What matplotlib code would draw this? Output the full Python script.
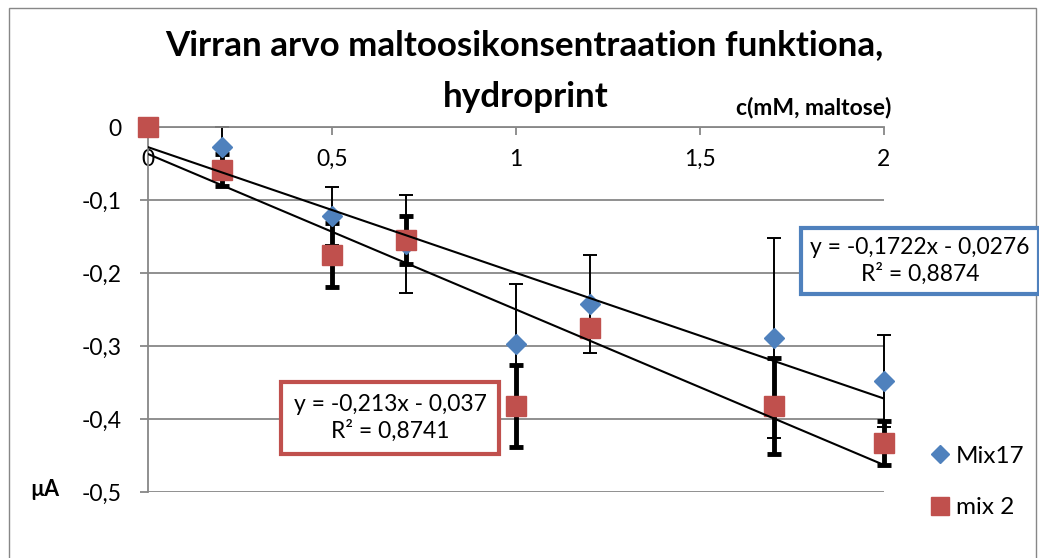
import matplotlib
matplotlib.use("Agg")
import numpy as np
import matplotlib.pyplot as plt
from matplotlib.patches import Rectangle

plt.rcParams["font.family"] = ["Lato", "DejaVu Sans"]

# ---- data ----
conc = [0.0, 0.2, 0.5, 0.7, 1.0, 1.2, 1.7, 2.0]
mix17 = [0.0, -0.028, -0.122, -0.160, -0.297, -0.242, -0.289, -0.348]
mix17_err = [0.0, 0.028, 0.040, 0.067, 0.082, 0.067, 0.137, 0.063]
mix2 = [0.0, -0.059, -0.175, -0.155, -0.382, -0.275, -0.382, -0.433]
mix2_err = [0.0, 0.022, 0.044, 0.033, 0.056, 0.010, 0.066, 0.030]

fit17 = (-0.1722, -0.0276)   # slope, intercept
fit2 = (-0.213, -0.037)
eq17 = "y = -0,1722x - 0,0276\nR² = 0,8874"
eq2 = "y = -0,213x - 0,037\nR² = 0,8741"

xticks = [0, 0.5, 1, 1.5, 2]
xticklabels = ["0", "0,5", "1", "1,5", "2"]
yticks = [0, -0.1, -0.2, -0.3, -0.4, -0.5]
yticklabels = ["0", "-0,1", "-0,2", "-0,3", "-0,4", "-0,5"]

BLUE = "#4F81BD"
RED = "#C0504D"
GRID = "#878787"

fig = plt.figure(figsize=(10.39, 5.58), dpi=100)
ax = fig.add_axes([148 / 1039, 66 / 558, 736 / 1039, 365 / 558])

# error bars first (thin for Mix17, thick for mix 2)
ax.errorbar(conc, mix17, yerr=mix17_err, fmt="none", ecolor="black",
            elinewidth=1.4, capsize=5, capthick=1.4, zorder=2, clip_on=False)
ax.errorbar(conc, mix2, yerr=mix2_err, fmt="none", ecolor="black",
            elinewidth=3.5, capsize=5, capthick=3.5, zorder=2, clip_on=False)

ax.plot(conc, mix17, linestyle="none", marker="D", ms=10.5, color=BLUE,
        mec=BLUE, label="Mix17", zorder=3, clip_on=False)
ax.plot(conc, mix2, linestyle="none", marker="s", ms=15, color=RED,
        mec=RED, label="mix 2", zorder=4, clip_on=False)

# linear trendlines
xl = np.array([0.0, 2.0])
ax.plot(xl, fit17[0] * xl + fit17[1], color="black", lw=1.5, zorder=5)
ax.plot(xl, fit2[0] * xl + fit2[1], color="black", lw=1.5, zorder=5)

ax.set_xlim(0, 2)
ax.set_ylim(-0.5, 0)

# axis styling: x axis sits at y=0 (top), labels below it
for s in ["right", "bottom"]:
    ax.spines[s].set_visible(False)
ax.spines["left"].set_color(GRID)
ax.spines["top"].set_color(GRID)
ax.spines["left"].set_linewidth(1.3)
ax.spines["top"].set_linewidth(1.3)

ax.xaxis.tick_top()
ax.set_xticks(xticks)
ax.set_xticklabels(xticklabels)
ax.tick_params(axis="x", direction="in", length=6, width=1.3, color=GRID,
               pad=-31, labelsize=16.5)
ax.set_yticks(yticks)
ax.set_yticklabels(yticklabels)
ax.tick_params(axis="y", direction="out", length=6, width=1.3, color=GRID,
               labelsize=16.5, pad=13)
ax.yaxis.grid(True, color=GRID, lw=1.3)
ax.set_axisbelow(True)

fig.text(524 / 1039, 1 - 45 / 558, "Virran arvo maltoosikonsentraation funktiona,",
         ha="center", va="center", fontsize=25.2, fontweight="bold")
fig.text(526 / 1039, 1 - 97 / 558, "hydroprint",
         ha="center", va="center", fontsize=25.2, fontweight="bold")
fig.text(814 / 1039, 1 - 107 / 558, "c(mM, maltose)", ha="center", va="center",
         fontsize=16.5, fontweight="bold")
fig.text(45 / 1039, 1 - 490 / 558, "µA", ha="center", va="center",
         fontsize=15.5, fontweight="bold")

fig.text(920 / 1039, 1 - 261 / 558, eq17, ha="center", va="center",
         fontsize=16.5, multialignment="center", linespacing=1.25,
         bbox=dict(boxstyle="square,pad=0.42", fc="white", ec=BLUE, lw=3))
fig.text(390 / 1039, 1 - 418 / 558, eq2, ha="center", va="center",
         fontsize=16.5, multialignment="center", linespacing=1.25,
         bbox=dict(boxstyle="square,pad=0.55", fc="white", ec=RED, lw=3))

fig.legend(loc="center left", bbox_to_anchor=(917 / 1039, 1 - 482 / 558),
           frameon=False, fontsize=17.5, handlelength=0.9, handletextpad=0.2,
           labelspacing=1.25, borderpad=0, markerscale=0.85)

fig.add_artist(Rectangle((9 / 1039, -0.01), 1027 / 1039, 1.01 - 8 / 558,
                         transform=fig.transFigure, fill=False,
                         ec=GRID, lw=1))

fig.savefig("out.png", dpi=100)
